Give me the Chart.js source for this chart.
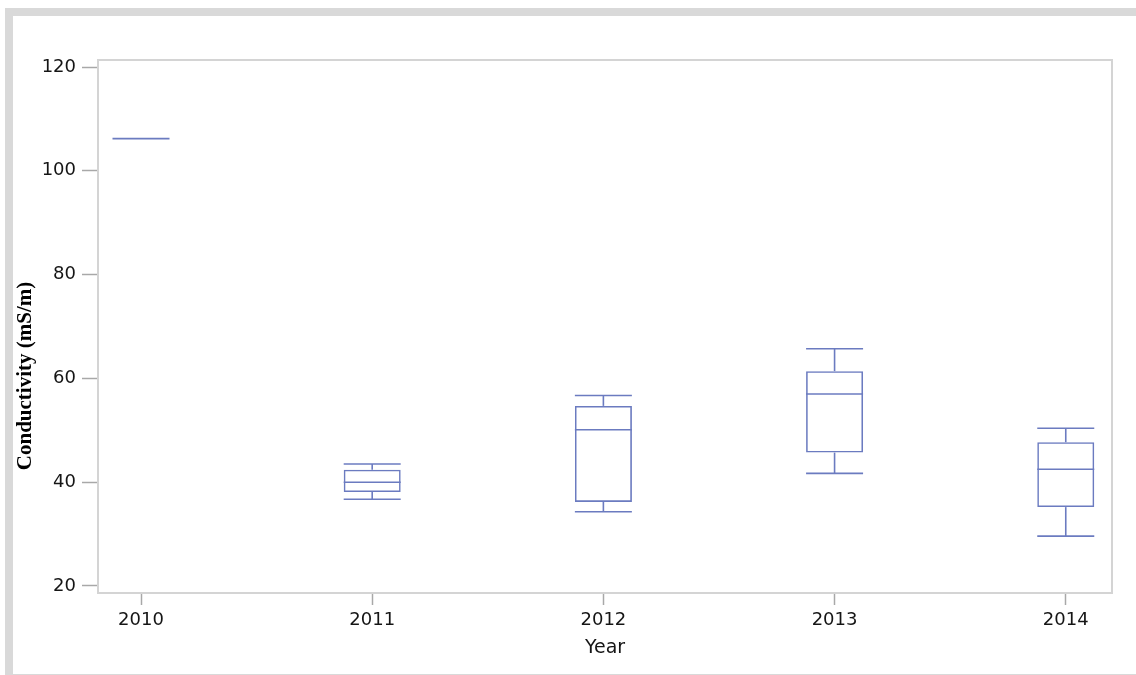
<!DOCTYPE html>
<html>
<head>
<meta charset="utf-8">
<script src="https://cdn.jsdelivr.net/npm/chart.js@4.4.1/dist/chart.umd.min.js"></script>
<style>
    html, body { margin: 0; padding: 0; background: #fff; }
    #frame {
        position: absolute; left: 5px; top: 8px; right: 0; bottom: 0;
        border-top: 8px solid #d9d9d9; border-left: 8px solid #d9d9d9; border-bottom: 1px solid #d9d9d9;
    }
    #chart { position: absolute; left: 0; top: 0; }
</style>
</head>
<body>
<div id="frame"></div>
<canvas id="chart" width="1136" height="675"></canvas>
<script>
// 年份与箱线图数据 (mS/m)
const years = [2010, 2011, 2012, 2013, 2014];
const whiskerLow = [106.2, 36.7, 34.3, 41.7, 29.6];
const q1 = [106.2, 38.1, 36.2, 45.7, 35.2];
const median = [106.2, 40.0, 50.1, 57.0, 42.5];
const q3 = [106.2, 42.4, 54.7, 61.4, 47.7];
const whiskerHigh = [106.2, 43.5, 56.7, 65.7, 50.4];
const yTicks = [20, 40, 60, 80, 100, 120];
const yTitle = 'Conductivity (mS/m)';

const boxColor = '#6b7bc0';
const boxWidth = 57;

// 须线、中位线、外框和纵轴标题
const boxPlotPlugin = {
    id: 'boxPlot',
    afterDatasetsDraw(chart) {
        const {ctx, scales: {x, y}, chartArea} = chart;
        ctx.save();
        ctx.strokeStyle = '#d4d4d4';
        ctx.lineWidth = 2;
        ctx.strokeRect(chartArea.left, chartArea.top, chartArea.right - chartArea.left, chartArea.bottom - chartArea.top);

        ctx.strokeStyle = boxColor;
        ctx.lineWidth = 1.6;
        const line = (x1, y1, x2, y2) => {
            ctx.beginPath();
            ctx.moveTo(x1, y1);
            ctx.lineTo(x2, y2);
            ctx.stroke();
        };
        years.forEach((yr, i) => {
            const cx = x.getPixelForValue(yr);
            const half = boxWidth / 2;
            const pLow = y.getPixelForValue(whiskerLow[i]);
            const pQ1 = y.getPixelForValue(q1[i]);
            const pMed = y.getPixelForValue(median[i]);
            const pQ3 = y.getPixelForValue(q3[i]);
            const pHigh = y.getPixelForValue(whiskerHigh[i]);
            line(cx - half, pMed, cx + half, pMed);
            if (pHigh !== pQ3) {
                line(cx, pHigh, cx, pQ3);
                line(cx - half, pHigh, cx + half, pHigh);
            }
            if (pLow !== pQ1) {
                line(cx, pQ1, cx, pLow);
                line(cx - half, pLow, cx + half, pLow);
            }
        });

        ctx.translate(26, 376);
        ctx.rotate(-Math.PI / 2);
        ctx.fillStyle = '#000';
        ctx.font = 'bold 21px "Liberation Serif"';
        ctx.textAlign = 'center';
        ctx.textBaseline = 'middle';
        ctx.fillText(yTitle, 0, 0);
        ctx.restore();
    }
};

const ctx = document.getElementById('chart').getContext('2d');
const chart = new Chart(ctx, {
    type: 'bar',
    data: {
        datasets: [{
            label: 'Conductivity',
            data: years.map((yr, i) => ({x: yr, y: [q1[i], q3[i]]})),
            backgroundColor: 'rgba(0,0,0,0)',
            borderColor: boxColor,
            borderWidth: 1.6,
            borderSkipped: false,
            barThickness: boxWidth,
            inflateAmount: 0
        }]
    },
    options: {
        responsive: false,
        animation: false,
        layout: {padding: {top: 60, right: 24, left: 0, bottom: 0}},
        plugins: {
            legend: {display: false},
            tooltip: {enabled: false}
        },
        scales: {
            x: {
                type: 'linear',
                offset: false,
                min: 2009.814,
                max: 2014.2,
                afterBuildTicks: s => { s.ticks = years.map(v => ({value: v})); },
                afterFit: s => { s.height = 82; },
                grid: {offset: false, drawOnChartArea: false, drawTicks: true, tickLength: 12, tickColor: '#a8a8a8', tickWidth: 1.5},
                border: {display: false},
                ticks: {
                    padding: 5,
                    color: '#151515',
                    font: {family: 'DejaVu Sans', size: 18},
                    callback: v => String(v),
                    maxRotation: 0
                },
                title: {
                    display: true,
                    text: 'Year',
                    color: '#151515',
                    font: {family: 'DejaVu Sans', size: 19},
                    padding: {top: 0, bottom: 16}
                }
            },
            y: {
                min: 18.65,
                max: 121.35,
                afterBuildTicks: s => { s.ticks = yTicks.map(v => ({value: v})); },
                afterFit: s => { s.width = 98; },
                grid: {drawOnChartArea: false, drawTicks: true, tickLength: 16, tickColor: '#a8a8a8', tickWidth: 1.5},
                border: {display: false},
                ticks: {
                    padding: 6,
                    color: '#151515',
                    font: {family: 'DejaVu Sans', size: 18}
                }
            }
        }
    },
    plugins: [boxPlotPlugin]
});
</script>
</body>
</html>
